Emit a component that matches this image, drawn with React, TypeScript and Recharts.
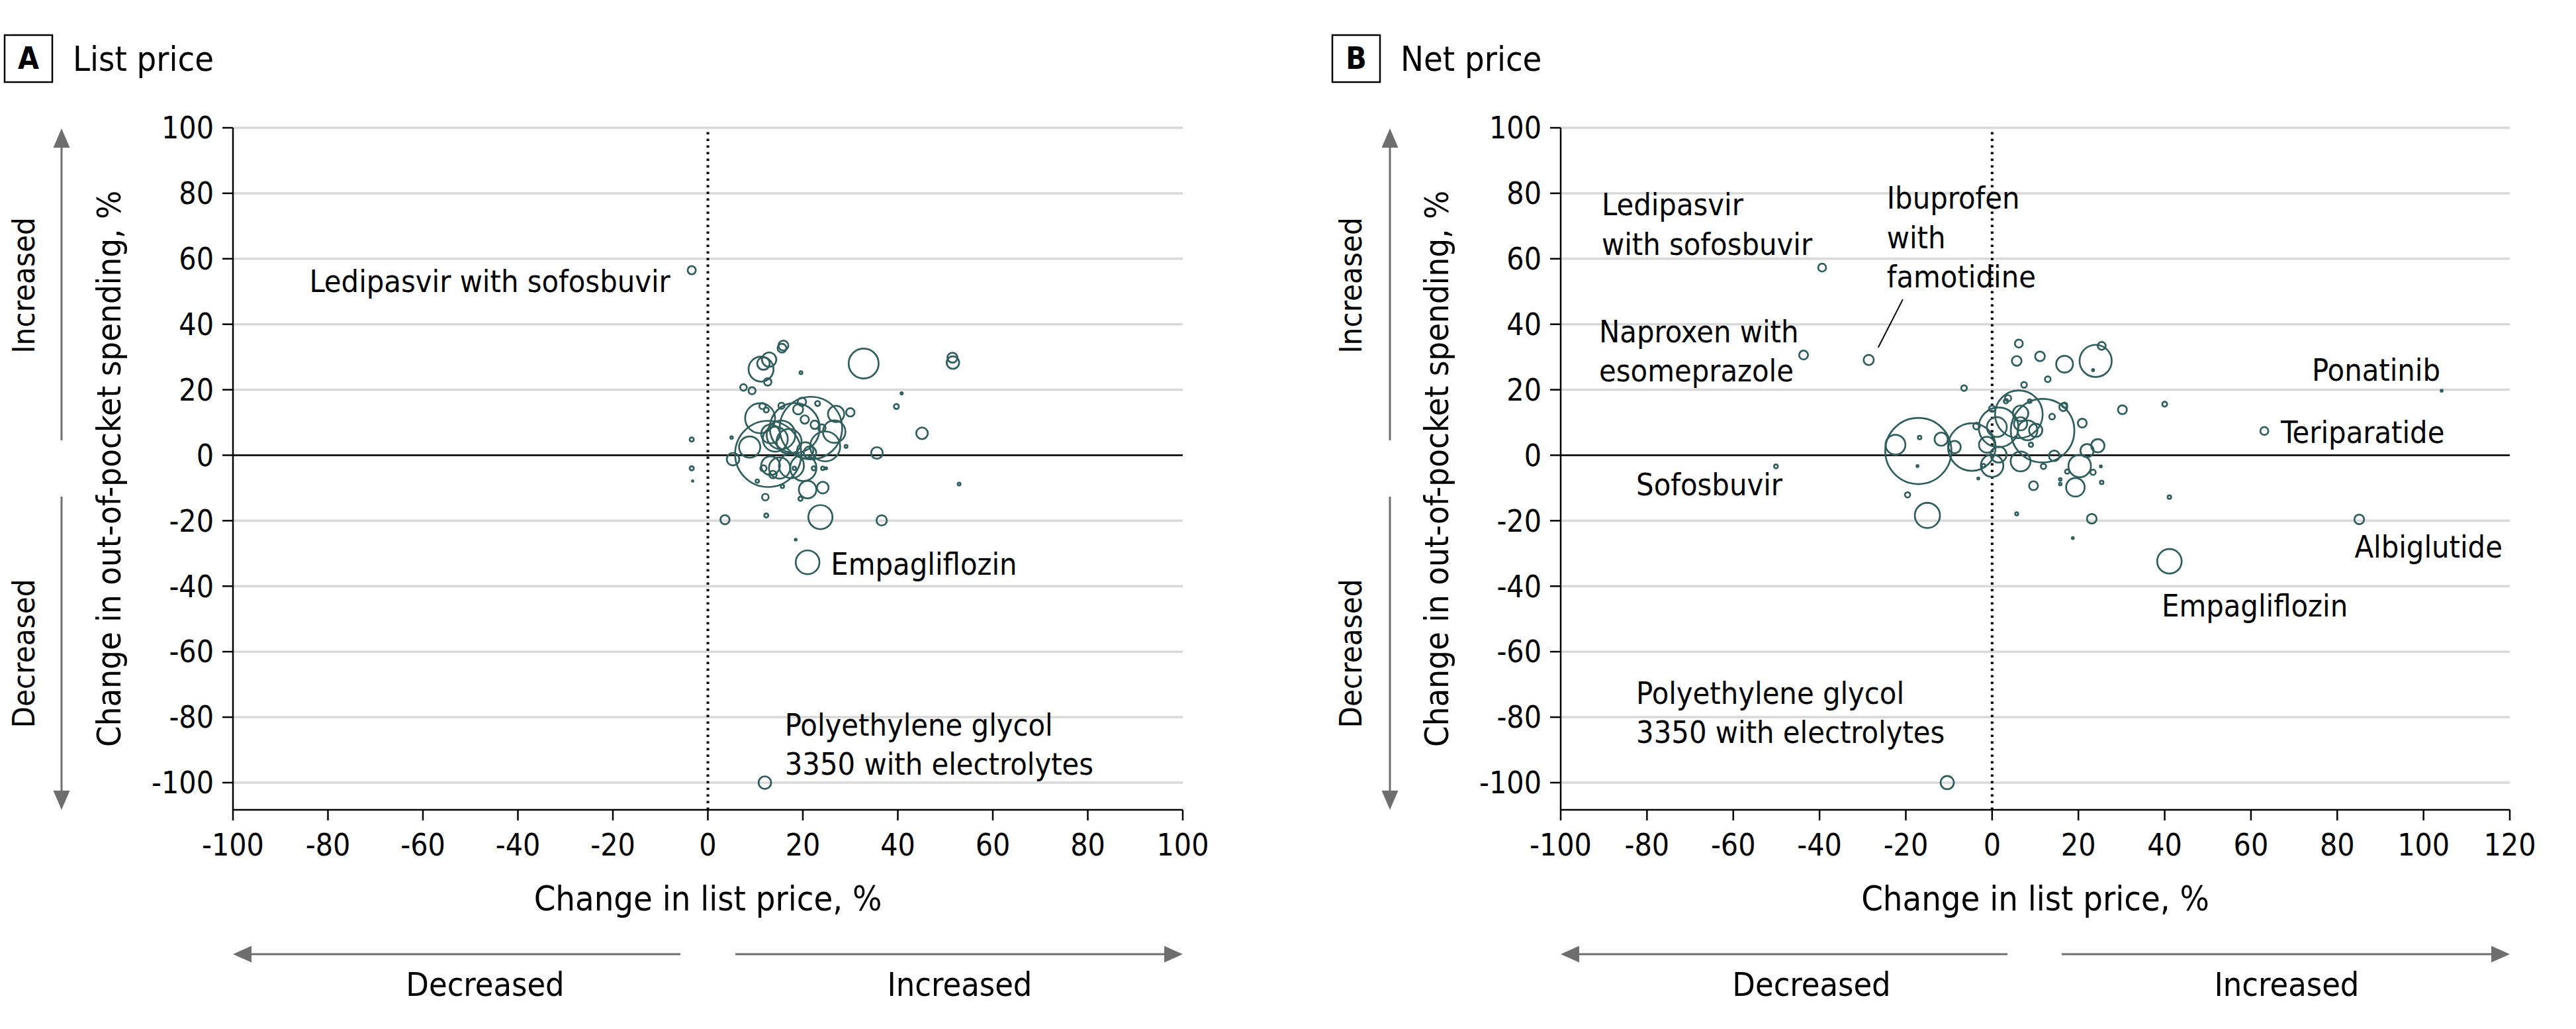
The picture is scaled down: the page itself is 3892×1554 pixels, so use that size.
import React from 'react';
import {
  ScatterChart, Scatter, XAxis, YAxis, ZAxis, CartesianGrid,
  ReferenceLine, ReferenceDot,
} from 'recharts';

const FONT = '"Liberation Sans Narrow", "DejaVu Sans Condensed", "Roboto Condensed", "Liberation Sans", Arial, sans-serif';
const TEAL = '#2f5e5c';
const ARROW = '#6e6e6e';

const xTicksA = [-100, -80, -60, -40, -20, 0, 20, 40, 60, 80, 100];
const xTicksB = [-100, -80, -60, -40, -20, 0, 20, 40, 60, 80, 100, 120];
const yTicks = [-100, -80, -60, -40, -20, 0, 20, 40, 60, 80, 100];

// A: list price change vs out-of-pocket change, bubble size ~ spending
const listX = [-3.4, 12.0, 21.0, 15.9, 15.6, 11.2, 11.7, 12.9, 12.6, 19.6, 32.8, 51.5, 51.6, 7.5, 9.3, 40.8, 39.7, 45.1, 35.6, -3.4, -3.4, -3.2, 5.0, 5.3, 12.7, 21.7, 18.3, 8.8, 11.0, 15.4, 14.2, 13.2, 17.1, 20.5, 21.5, 13.2, 15.1, 17.6, 20.1, 26.6, 27.0, 30.0, 24.7, 11.5, 12.3, 15.5, 19.8, 23.1, 19.0, 20.4, 22.5, 24.0, 29.1, 22.3, 24.2, 24.9, 11.7, 13.7, 10.4, 15.7, 18.2, 21.0, 24.2, 19.5, 12.1, 3.6, 12.3, 23.7, 36.6, 18.5, 52.9];
const listY = [56.5, -100, -32.7, 33.5, 32.7, 26.3, 28.0, 29.2, 22.4, 25.2, 28.0, 29.8, 28.3, 20.7, 19.7, 18.9, 14.9, 6.7, 0.7, 4.8, -4.0, -7.9, 5.4, -1.2, 0.4, 8.3, 8.3, 2.5, 11.3, 6.2, 4.9, 6.5, 4.2, 1.5, 0.8, -3.2, -3.9, -3.2, -3.9, 7.2, 12.6, 13.1, 2.7, 15.0, 13.8, 15.1, 16.3, 15.8, 14.0, 10.9, 9.3, 8.3, 2.7, -4.0, -4.0, -4.0, -4.0, -5.9, -7.9, -9.5, -4.0, -10.5, -9.9, -13.3, -12.8, -19.7, -18.4, -18.9, -19.9, -25.8, -8.8];
const listSize = [6.5, 10, 19, 8, 7, 20, 10, 11.5, 6, 2.3, 24, 8, 10, 5.3, 5.7, 1.8, 4, 9.3, 9.3, 3.3, 3.3, 1.2, 2, 10, 53, 50, 40, 17, 24, 23, 20, 15, 20, 13, 10, 15, 17, 20, 21, 18, 13, 6.7, 24, 5, 4, 5, 6.7, 4, 8, 6.7, 6.7, 6, 2.3, 3.3, 2.7, 1.7, 5, 6, 2.7, 2.7, 2.7, 14, 9.3, 3.3, 5.3, 7.3, 3.3, 19.3, 8.3, 1.5, 2.3];

// B: net price change vs out-of-pocket change
const netX = [-39.4, -43.7, -28.6, -50.1, 104.2, 63.1, 85.1, 41.1, -10.4, -17.1, -22.4, -16.8, -17.3, -11.8, -19.6, -15.0, -6.5, 6.2, 5.7, 11.1, 16.8, 24.0, 25.4, 23.4, 12.9, 7.4, 40.0, 30.2, 20.9, 41.1, 5.7, 23.1, 18.7, -8.7, -4.7, 20.3, 19.3, 22.0, 24.5, 23.4, 25.2, 25.4, 15.8, 15.8, 17.4, 11.9, 9.6, 16.5, 16.8, 13.9, 6.6, 6.2, 11.7, 1.5, 1.1, -1.2, 1.5, 0.0, 6.6, 14.4, 8.2, 10.1, 6.6, 3.7, 3.2, 8.7, 0.0, -3.6, -2.0, -3.2, 9.0, 5.5];
const netY = [57.3, 30.6, 29.1, -3.4, 19.7, 7.4, -19.6, -32.4, -100, 1.3, 3.2, 5.4, -3.3, 4.9, -12.1, -18.4, 20.5, 34.1, 28.8, 30.2, 27.8, 28.8, 33.4, 26.0, 23.2, 21.5, 15.6, 13.9, 9.8, -12.8, -17.9, -19.4, -25.3, 2.5, 2.5, -3.3, -9.8, 1.4, 2.9, -5.2, -3.4, -8.3, -7.4, -8.8, -5.0, -3.4, -9.3, 14.7, 15.3, 11.8, 12.8, 12.5, 7.5, 8.5, 8.6, 3.2, 0.2, -3.2, -1.9, -0.2, 7.6, 7.6, 9.6, 17.4, 16.5, 16.5, 14.2, 8.9, -3.2, -7.1, 3.2, 5.5];
const netSize = [6, 6.7, 7.7, 3, 1.5, 6, 7.3, 18.5, 10, 50, 15, 2.7, 1.5, 10, 4, 19, 4.3, 6, 7.3, 7.3, 12.7, 24.3, 6, 1.5, 4.3, 4.3, 3.7, 6.7, 6.7, 2.7, 2.3, 7.3, 1.5, 9.3, 36, 17, 14, 10, 10, 4, 1.5, 2.7, 2, 2, 3.3, 4, 6.7, 6, 4, 4.3, 11.7, 36, 48, 30, 15, 12, 12, 17, 15, 8, 15, 10, 10, 4.7, 3.3, 2.7, 4.7, 5, 2.7, 1.5, 3.3, 1.5];

// annotation anchors in data units
const notesA = [
  { x: -7.9, y: 49.8, lines: ['Ledipasvir with sofosbuvir'], anchor: 'end' },
  { x: 25.9, y: -36.5, lines: ['Empagliflozin'], anchor: 'start' },
  { x: 16.2, y: -85.6, lines: ['Polyethylene glycol', '3350 with electrolytes'], anchor: 'start' },
];
const notesB = [
  { x: -90.5, y: 73.3, lines: ['Ledipasvir', 'with sofosbuvir'], anchor: 'start' },
  { x: -24.4, y: 75.3, lines: ['Ibuprofen', 'with', 'famotidine'], anchor: 'start' },
  { x: -91.1, y: 34.5, lines: ['Naproxen with', 'esomeprazole'], anchor: 'start' },
  { x: 103.9, y: 22.8, lines: ['Ponatinib'], anchor: 'end' },
  { x: 66.9, y: 3.7, lines: ['Teriparatide'], anchor: 'start' },
  { x: -82.5, y: -12.2, lines: ['Sofosbuvir'], anchor: 'start' },
  { x: 118.3, y: -31.2, lines: ['Albiglutide'], anchor: 'end' },
  { x: 39.3, y: -49.2, lines: ['Empagliflozin'], anchor: 'start' },
  { x: -82.5, y: -75.9, lines: ['Polyethylene glycol', '3350 with electrolytes'], anchor: 'start' },
];
const leaderB = [{ x: -26.4, y: 32.9 }, { x: -20.7, y: 47.6 }];

const build = (xs: number[], ys: number[], ss: number[]) =>
  xs.map((x, i) => ({ x, y: ys[i], z: ss[i] * ss[i] }));

type Note = { x: number; y: number; lines: string[]; anchor: string };

function noteShape(n: Note) {
  return (p: any) => (
    <text x={p.cx} y={p.cy} textAnchor={n.anchor as any} fontFamily={FONT} fontSize={46.5} fill="#000">
      {n.lines.map((l, i) => (
        <tspan key={i} x={p.cx} dy={i === 0 ? 0 : 59.5}>{l}</tspan>
      ))}
    </text>
  );
}

const AXIS_W = 80;
const AXIS_H = 80;

function Panel({ data, xDomain, xTicks, notes, leader, width, margin }: any) {
  const tick = { fontSize: 46, fill: '#000', fontFamily: FONT };
  const line = { stroke: '#000', strokeWidth: 2.5 };
  return (
    <ScatterChart width={width} height={1554} margin={margin}>
      <CartesianGrid vertical={false} stroke="#d9d9d9" strokeWidth={3.5} horizontalValues={yTicks} />
      <XAxis type="number" dataKey="x" domain={xDomain} ticks={xTicks} interval={0} height={AXIS_H}
        allowDataOverflow tickSize={16} tickMargin={20} tick={tick} axisLine={line} tickLine={line} />
      <YAxis type="number" dataKey="y" domain={[-108.3, 100]} ticks={yTicks} interval={0} width={AXIS_W}
        allowDataOverflow tickSize={16} tickMargin={13} tick={tick} axisLine={line} tickLine={line} />
      <ZAxis type="number" dataKey="z" domain={[0, 2500]} range={[0, 2500 * Math.PI]} />
      <ReferenceLine y={0} stroke="#000" strokeWidth={2.5} />
      <ReferenceLine x={0} stroke="#000" strokeWidth={4} strokeDasharray="3.5 6.5" />
      {leader && <ReferenceLine segment={leader} stroke="#000" strokeWidth={2} />}
      <Scatter data={data} fill="none" stroke={TEAL} strokeWidth={2.7} isAnimationActive={false} />
      {notes.map((n: Note, i: number) => (
        <ReferenceDot key={i} x={n.x} y={n.y} r={0} shape={noteShape(n)} />
      ))}
    </ScatterChart>
  );
}

function Frame({ g }: { g: any }) {
  const t = { fontFamily: FONT, fill: '#000' };
  const yc = 708;
  return (
    <g>
      <rect x={g.boxX} y={53} width={72} height={71} fill="none" stroke="#000" strokeWidth={2.5} />
      <text x={g.boxX + 36} y={104} textAnchor="middle" fontSize={46} fontWeight="bold" {...t}>{g.letter}</text>
      <text x={g.titleX} y={107} fontSize={52} {...t}>{g.title}</text>

      <line x1={g.arrowX} y1={222} x2={g.arrowX} y2={665} stroke={ARROW} strokeWidth={3} />
      <polygon points={`${g.arrowX},194 ${g.arrowX - 12.5},223 ${g.arrowX + 12.5},223`} fill={ARROW} />
      <line x1={g.arrowX} y1={750} x2={g.arrowX} y2={1195} stroke={ARROW} strokeWidth={3} />
      <polygon points={`${g.arrowX},1223 ${g.arrowX - 12.5},1194 ${g.arrowX + 12.5},1194`} fill={ARROW} />
      <text x={g.sideX} y={431} transform={`rotate(-90 ${g.sideX} 431)`} textAnchor="middle" dominantBaseline="central" fontSize={47} {...t}>Increased</text>
      <text x={g.sideX} y={987} transform={`rotate(-90 ${g.sideX} 987)`} textAnchor="middle" dominantBaseline="central" fontSize={47} {...t}>Decreased</text>
      <text x={g.yTitleX} y={yc} transform={`rotate(-90 ${g.yTitleX} ${yc})`} textAnchor="middle" dominantBaseline="central" fontSize={50.5} {...t}>Change in out-of-pocket spending, %</text>

      <text x={(g.left + g.right) / 2} y={1375} textAnchor="middle" fontSize={52} {...t}>Change in list price, %</text>
      <line x1={g.left + 27} y1={1441} x2={g.gapL} y2={1441} stroke={ARROW} strokeWidth={3} />
      <polygon points={`${g.left},1441 ${g.left + 28},1428.5 ${g.left + 28},1453.5`} fill={ARROW} />
      <line x1={g.gapR} y1={1441} x2={g.right - 27} y2={1441} stroke={ARROW} strokeWidth={3} />
      <polygon points={`${g.right},1441 ${g.right - 28},1428.5 ${g.right - 28},1453.5`} fill={ARROW} />
      <text x={g.decX} y={1504} textAnchor="middle" fontSize={50} {...t}>Decreased</text>
      <text x={g.incX} y={1504} textAnchor="middle" fontSize={50} {...t}>Increased</text>
    </g>
  );
}

const frameA = { letter: 'A', title: 'List price', boxX: 7, titleX: 110, arrowX: 93, sideX: 35, yTitleX: 164, left: 352, right: 1787, gapL: 1028, gapR: 1111, decX: 733, incX: 1450 };
const frameB = { letter: 'B', title: 'Net price', boxX: 2013, titleX: 2116, arrowX: 2100, sideX: 2040, yTitleX: 2170, left: 2358, right: 3792, gapL: 3033, gapR: 3115, decX: 2737, incX: 3455 };

export default function App() {
  const dataA = build(listX, listY, listSize);
  const dataB = build(netX, netY, netSize);
  return (
    <div style={{ position: 'absolute', left: 0, top: 0, width: 3892, height: 1554, background: '#fff', overflow: 'hidden' }}>
      <div style={{ position: 'absolute', left: 0, top: 0 }}>
        <Panel data={dataA} xDomain={[-100, 100]} xTicks={xTicksA} notes={notesA} width={1900}
          margin={{ top: 193, left: 352 - AXIS_W, right: 113, bottom: 331 - AXIS_H }} />
      </div>
      <div style={{ position: 'absolute', left: 1950, top: 0 }}>
        <Panel data={dataB} xDomain={[-100, 120]} xTicks={xTicksB} notes={notesB} leader={leaderB} width={1942}
          margin={{ top: 193, left: 408 - AXIS_W, right: 100, bottom: 331 - AXIS_H }} />
      </div>
      <svg width={3892} height={1554} style={{ position: 'absolute', left: 0, top: 0, pointerEvents: 'none' }}>
        <Frame g={frameA} />
        <Frame g={frameB} />
      </svg>
    </div>
  );
}
